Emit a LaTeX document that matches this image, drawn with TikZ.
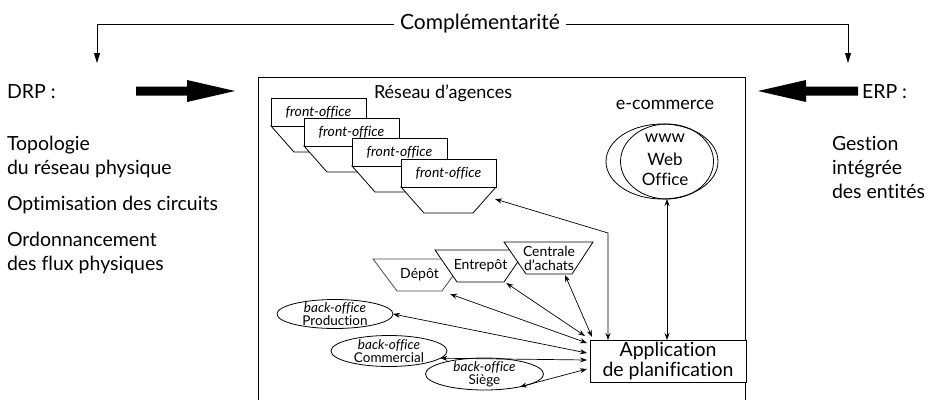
\documentclass[tikz,border=0pt]{standalone}
\usepackage{fontspec}
\setmainfont{Lato}[Ligatures=NoCommon]
\usetikzlibrary{arrows.meta,calc,shapes.geometric}
\begin{document}
\begin{tikzpicture}[x=1pt,y=-1pt,
  every node/.style={inner sep=0pt,outer sep=0pt},
  txt/.style={font=\fontsize{19.5}{23}\selectfont,anchor=base west},
  lbl/.style={font=\fontsize{18}{20}\selectfont,align=center},
  small/.style={font=\fontsize{14}{14}\selectfont,align=center},
  tiny/.style={font=\fontsize{13.5}{11.5}\selectfont,align=center},
  fo/.style={font=\fontsize{14}{15}\selectfont\itshape},
  thin/.style={line width=0.8pt},
  box/.style={draw,fill=white,line width=0.8pt,line join=miter},
  dbl/.style={line width=0.7pt,{Stealth[length=7pt,width=5pt]}-{Stealth[length=7pt,width=5pt]}},
  one/.style={line width=0.8pt,-{Triangle[length=10pt,width=6pt]}},
]
\useasboundingbox (0,0) rectangle (941,399);

% complementarity bracket
\node[font=\fontsize{21}{24}\selectfont,inner xsep=6pt] (compl) at (480,24) {Complémentarité};
\coordinate (drpin) at (97,63);
\coordinate (erpin) at (848,63);
\draw[one] (compl.west) -| (drpin);
\draw[one] (compl.east) -| (erpin);

% DRP side
\node[txt] (drp) at (7,98) {DRP :};
\node[txt] (topo1) at (7,150) {Topologie};
\node[txt] (topo2) at (7,174) {du réseau physique};
\node[txt] (optim) at (7,210) {Optimisation des circuits};
\node[txt] (ordo1) at (7,246) {Ordonnancement};
\node[txt] (ordo2) at (7,270) {des flux physiques};
\fill (136,86.5) -- (187,86.5) -- (187,80) -- (235,91) -- (187,102) -- (187,95.5) -- (136,95.5) -- cycle;

% ERP side
\node[txt] (erp) at (862,98) {ERP :};
\node[txt] (gest1) at (832,150) {Gestion};
\node[txt] (gest2) at (832,174) {intégrée};
\node[txt] (gest3) at (832,198) {des entités};
\fill (858,86.5) -- (806,86.5) -- (806,80) -- (758,91) -- (806,102) -- (806,95.5) -- (858,95.5) -- cycle;

% frame of the organisation
\draw[thin] (258,402) -- (258,77) -- (745,77) -- (745,402);
\node[lbl] (reseau) at (443,93) {Réseau d’agences};
\node[lbl] (ecom) at (665,105) {e-commerce};

% stacked front-office agencies
\foreach \i/\x/\y in {1/271/98,2/304/118,3/352/138,4/401/159} {
  \path[box] (\x,\y+28) -- ++(95,0) -- ++(-23,26) -- ++(-49,0) -- cycle;
  \node[box,fo,minimum width=95pt,minimum height=28pt,anchor=north west] (fo\i) at (\x,\y) {front-office};
}

% web office
\node[draw,thin,ellipse,minimum width=112pt,minimum height=75pt] (webout) at (662,161.5) {};
\node[draw,thin,ellipse,minimum width=93pt,minimum height=75pt] (web) at (667,161.5) {};
\node[font=\fontsize{17}{20}\selectfont,align=center] (webtxt) at (665,160) {www\\[3pt]Web\\Office};

% planning application
\node[box,font=\fontsize{19.5}{20}\selectfont,align=center,minimum width=156pt,minimum height=42pt] (app) at (668,361) {Application\\de planification};

% depots
\path[box,draw=black!70] (373,259) -- (465,259) -- (442,291) -- (397,291) -- cycle;
\node[small,minimum width=45pt,minimum height=32pt] (depot) at (419.5,275) {Dépôt};
\path[box] (435,250) -- (526,250) -- (504,282) -- (457,282) -- cycle;
\node[small,minimum width=47pt,minimum height=32pt] (entrepot) at (480.5,266) {Entrepôt};
\path[box] (504,242) -- (593,242) -- (572,274) -- (526,274) -- cycle;
\node[small,minimum width=46pt,minimum height=32pt] (centrale) at (549,258) {Centrale\\d’achats};

% back-offices
\node[box,ellipse,minimum width=116pt,minimum height=29pt] (prod) at (335,314) {};
\node[tiny] (prodlbl) at (prod) {\textit{back-office}\\Production};
\node[box,ellipse,minimum width=116pt,minimum height=31pt] (comm) at (389,351) {};
\node[tiny] (commlbl) at (comm) {\textit{back-office}\\Commercial};
\node[box,ellipse,minimum width=118pt,minimum height=32pt] (siege) at (484.5,374) {};
\node[tiny] (siegelbl) at (siege) {\textit{back-office}\\Siège};

% links to the planning application
\draw[dbl] ($(depot.south east)+(8,3)$) -- ($(app.north west)+(-3,3)$);
\draw[dbl] ($(entrepot.south east)+(-1,1)$) -- ($(app.north west)+(-5,-4)$);
\draw[dbl] ($(centrale.south east)+(-10,1)$) -- ($(app.north west)+(2,-3)$);
\draw[dbl] (prod.east) -- ($(app.north west)+(-3,13)$);
\draw[dbl] (comm.-8) -- ($(app.north west)+(-3,20)$);
\draw[dbl] (siege.-20) -- ($(app.north west)+(-3,29)$);
\draw[dbl] ($(app.north west)+(18,0)$) -- ++(0,-107) -- ($(fo4.south east)+(-1,12)$);
\draw[dbl] (web.south) -- (web.south |- app.north);
\end{tikzpicture}
\end{document}
